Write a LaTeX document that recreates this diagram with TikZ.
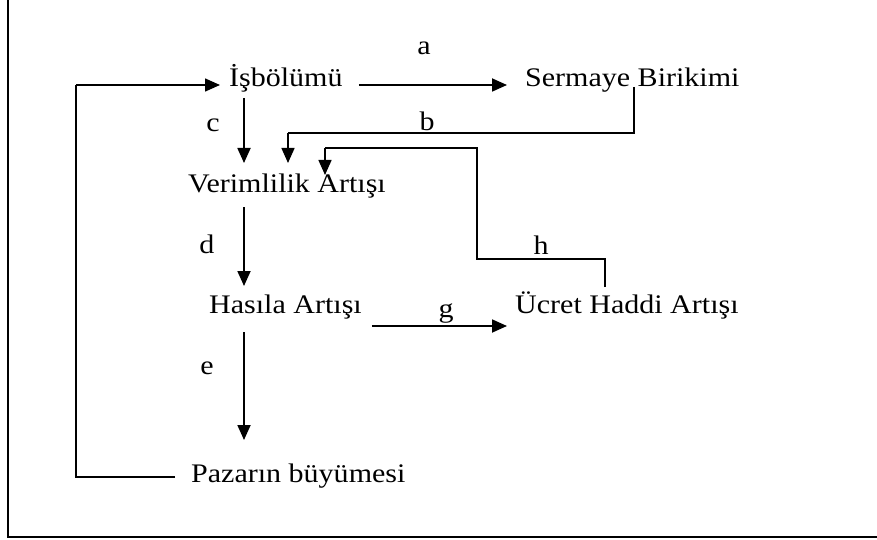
\documentclass[tikz,border=0pt]{standalone}
\usepackage{fontspec}
\setmainfont{Liberation Serif}
\usetikzlibrary{arrows.meta,calc}
\newcommand\widetext[1]{\scalebox{1.12}[1]{#1}}
\begin{document}
\begin{tikzpicture}[x=1pt,y=-1pt,
  lbl/.style={inner sep=0pt, anchor=base west, font=\fontsize{26.8}{32}\selectfont},
  tag/.style={inner sep=0pt, anchor=base, font=\fontsize{26.8}{32}\selectfont},
  arr/.style={line width=1.8pt, -{Triangle[length=15pt,width=13pt]}},
  link/.style={line width=1.5pt}]
\useasboundingbox (0,0) rectangle (877,540);
% frame: left and bottom rules
\draw[line width=2.6pt] (8,0) -- (8,537) -- (877,537);

% concepts
\node[lbl] (isb)  at (229,87)  {\widetext{İşbölümü}};
\node[lbl] (serm) at (525,87)  {\widetext{Sermaye Birikimi}};
\node[lbl] (ver)  at (188,193) {\widetext{Verimlilik Artışı}};
\node[lbl] (has)  at (209,313) {\widetext{Hasıla Artışı}};
\node[lbl] (ucr)  at (515,313) {\widetext{Ücret Haddi Artışı}};
\node[lbl] (paz)  at (191,482) {\widetext{Pazarın büyümesi}};

% link letters
\node[tag] (la) at (424,55)  {\widetext{a}};
\node[tag] (lb) at (427,131) {\widetext{b}};
\node[tag] (lc) at (213,132) {\widetext{c}};
\node[tag] (ld) at (207,253) {\widetext{d}};
\node[tag] (le) at (207,374) {\widetext{e}};
\node[tag] (lg) at (446,317) {\widetext{g}};
\node[tag] (lh) at (541,254) {\widetext{h}};

% column positions of the vertical runs
\coordinate (cx) at (244,0);
\coordinate (bx) at (634,0);
\coordinate (bl) at (288,0);
\coordinate (hx) at (605,0);
\coordinate (hm) at (477,0);
\coordinate (hl) at (325,0);
\coordinate (fx) at (76,0);

% a
\draw[arr] ([shift={(16pt,2pt)}]isb.base east) -- ([shift={(-18pt,2pt)}]serm.base west);
% c, d, e
\draw[arr] ([yshift=-11pt]isb.base -| cx) -- ([yshift=30pt]ver.base -| cx);
\draw[arr] ([yshift=-14pt]ver.base -| cx) -- ([yshift=27pt]has.base -| cx);
\draw[arr] ([yshift=-19pt]has.base -| cx) -- ([yshift=42pt]paz.base -| cx);
% b
\draw[link] (serm.base -| bx) |- ([yshift=-46pt]serm.base -| bl);
\draw[arr,line width=1.5pt] ([yshift=-46pt]serm.base -| bl) -- ([yshift=30pt]ver.base -| bl);
% h
\draw[link] ([yshift=26pt]ucr.base -| hx) |- ([yshift=54pt]ucr.base -| hm)
  |- ([yshift=45pt]ver.base -| hl);
\draw[arr,line width=1.5pt] ([yshift=45pt]ver.base -| hl) -- ([yshift=18pt]ver.base -| hl);
% g
\draw[arr] ([shift={(10pt,-13pt)}]has.base east) -- ([shift={(-8pt,-13pt)}]ucr.base west);
% feedback from market growth to division of labour
\draw[link] ([shift={(-16pt,5pt)}]paz.base west) -| ([yshift=2pt]isb.base west -| fx);
\draw[arr,line width=1.5pt] ([yshift=2pt]isb.base west -| fx) -- ([shift={(-9pt,2pt)}]isb.base west);
\end{tikzpicture}
\end{document}
